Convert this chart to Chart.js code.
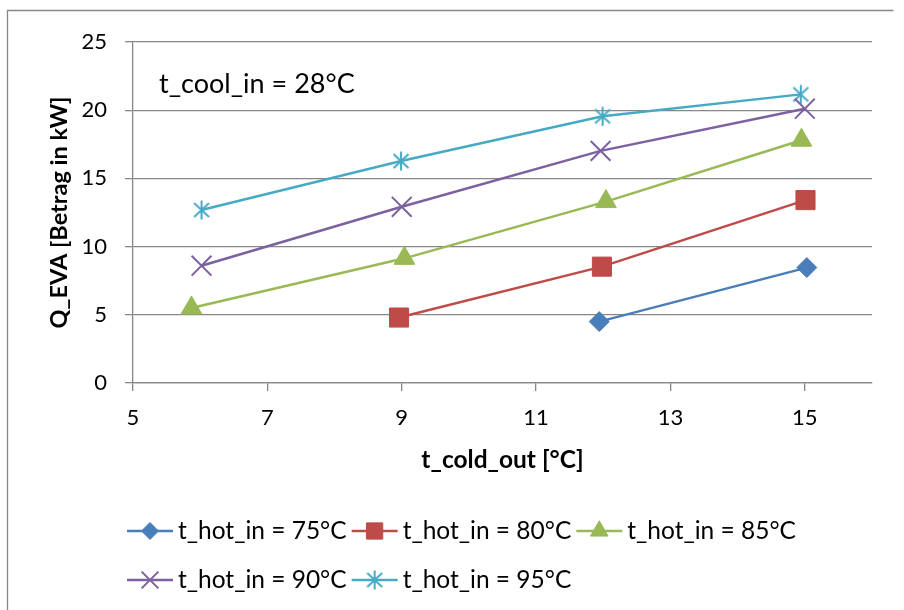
<!DOCTYPE html>
<html>
<head>
<meta charset="utf-8">
<script src="https://cdn.jsdelivr.net/npm/chart.js@4"></script>
<style>
  html, body { margin: 0; padding: 0; background: #ffffff; }
  canvas { display: block; }
</style>
</head>
<body>
<canvas id="chart" width="904" height="610"></canvas>
<script>
// Evaporator heat flow vs. cold water outlet temperature, one series per hot water inlet temperature
const seriesLabels = ['t_hot_in = 75°C', 't_hot_in = 80°C', 't_hot_in = 85°C', 't_hot_in = 90°C', 't_hot_in = 95°C'];

const coldOut75 = [11.94, 15.03];
const qEva75    = [4.5, 8.46];

const coldOut80 = [8.96, 11.98, 15.01];
const qEva80    = [4.8, 8.53, 13.41];

const coldOut85 = [5.87, 9.04, 12.04, 14.95];
const qEva85    = [5.5, 9.14, 13.3, 17.8];

const coldOut90 = [6.02, 9.0, 11.96, 15.0];
const qEva90    = [8.6, 12.92, 17.02, 20.11];

const coldOut95 = [6.02, 8.99, 11.99, 14.94];
const qEva95    = [12.68, 16.27, 19.55, 21.16];

const xTicks = [5, 7, 9, 11, 13, 15];
const yTicks = [0, 5, 10, 15, 20, 25];

const noteText = 't_cool_in = 28°C';
const xTitle = 't_cold_out [°C]';
const yTitle = 'Q_EVA [Betrag in kW]';

const FONT = 'Lato';
const gridColor = '#878787';

function pairs(xs, ys) {
  return xs.map((x, i) => ({ x: x, y: ys[i] }));
}

// Six-armed asterisk marker
function makeAsterisk(color) {
  const c = document.createElement('canvas');
  c.width = 24; c.height = 24;
  const g = c.getContext('2d');
  g.strokeStyle = color;
  g.lineWidth = 2;
  g.lineCap = 'butt';
  g.beginPath();
  g.moveTo(12, 2.5); g.lineTo(12, 21.5);
  g.moveTo(4.5, 5); g.lineTo(19.5, 19);
  g.moveTo(19.5, 5); g.lineTo(4.5, 19);
  g.stroke();
  return c;
}

const styles = [
  { color: '#4A7EBB', pointStyle: 'rectRot', radius: 10, fill: '#4A7EBB', pbw: 1 },
  { color: '#BE4B48', pointStyle: 'rect', radius: 13.5, fill: '#BE4B48', pbw: 1 },
  { color: '#98B954', pointStyle: 'triangle', radius: 12, fill: '#98B954', pbw: 1 },
  { color: '#7D60A0', pointStyle: 'crossRot', radius: 14, fill: '#7D60A0', pbw: 2 },
  { color: '#46AAC5', pointStyle: makeAsterisk('#46AAC5'), radius: 12, fill: '#46AAC5', pbw: 2 }
];

const xs = [coldOut75, coldOut80, coldOut85, coldOut90, coldOut95];
const ys = [qEva75, qEva80, qEva85, qEva90, qEva95];

const datasets = seriesLabels.map((label, i) => ({
  label: label,
  data: pairs(xs[i], ys[i]),
  showLine: true,
  borderColor: styles[i].color,
  backgroundColor: styles[i].fill,
  borderWidth: 2.5,
  pointStyle: styles[i].pointStyle,
  pointRadius: styles[i].radius,
  pointHoverRadius: styles[i].radius,
  pointBackgroundColor: styles[i].fill,
  pointBorderColor: styles[i].color,
  pointBorderWidth: styles[i].pbw,
  clip: false
}));

// Frame, inline note and the legend block below the axes
const overlay = {
  id: 'overlay',
  afterDraw(chart) {
    const ctx = chart.ctx;
    ctx.save();

    ctx.strokeStyle = gridColor;
    ctx.lineWidth = 1.3;
    ctx.beginPath();
    ctx.moveTo(7.5, 612);
    ctx.lineTo(7.5, 10.5);
    ctx.lineTo(893.5, 10.5);
    ctx.stroke();

    ctx.fillStyle = '#000';
    ctx.font = `27px ${FONT}`;
    ctx.textBaseline = 'alphabetic';
    ctx.textAlign = 'left';
    ctx.fillText(noteText, 159, 93);

    const rows = [
      { y: 531, items: [0, 1, 2] },
      { y: 580, items: [3, 4] }
    ];
    ctx.font = `24.5px ${FONT}`;
    rows.forEach(row => {
      let x0 = 127;
      row.items.forEach(i => {
        const ds = chart.data.datasets[i];
        ctx.strokeStyle = ds.borderColor;
        ctx.lineWidth = 2.5;
        ctx.beginPath();
        ctx.moveTo(x0, row.y);
        ctx.lineTo(x0 + 46, row.y);
        ctx.stroke();

        ctx.fillStyle = ds.pointBackgroundColor;
        ctx.strokeStyle = ds.pointBorderColor;
        ctx.lineWidth = ds.pointBorderWidth;
        Chart.helpers.drawPoint(ctx, {
          pointStyle: ds.pointStyle,
          rotation: 0,
          radius: ds.pointRadius * 0.85,
          borderWidth: ds.pointBorderWidth
        }, x0 + 23, row.y);

        ctx.fillStyle = '#000';
        ctx.fillText(ds.label, x0 + 51, row.y + 8);
        x0 += 51 + ctx.measureText(ds.label).width + 5;
      });
    });
    ctx.restore();
  }
};

new Chart(document.getElementById('chart'), {
  type: 'scatter',
  data: { datasets: datasets },
  plugins: [overlay],
  options: {
    responsive: false,
    animation: false,
    events: [],
    layout: { padding: { left: 0, top: 42, right: 32, bottom: 127 } },
    plugins: {
      legend: { display: false },
      tooltip: { enabled: false }
    },
    scales: {
      x: {
        type: 'linear',
        min: 5,
        max: 16,
        afterBuildTicks: s => { s.ticks = xTicks.map(v => ({ value: v })); },
        afterFit: s => { s.height = 100; },
        grid: { drawOnChartArea: false, drawTicks: true, tickLength: 8, color: gridColor, lineWidth: 1.3 },
        border: { display: true, color: gridColor, width: 1.3 },
        ticks: { color: '#000', font: { family: FONT, size: 22 }, padding: 14, maxRotation: 0 },
        title: {
          display: true,
          text: xTitle,
          color: '#000',
          font: { family: FONT, size: 24.5, weight: 'bold' },
          padding: { top: 0, bottom: 8 }
        }
      },
      y: {
        type: 'linear',
        min: 0,
        max: 25,
        afterBuildTicks: s => { s.ticks = yTicks.map(v => ({ value: v })); },
        afterFit: s => { s.width = 133; },
        grid: { drawTicks: true, tickLength: 8, color: gridColor, lineWidth: 1.3 },
        border: { display: true, color: gridColor, width: 1.3 },
        ticks: { color: '#000', font: { family: FONT, size: 22 }, padding: 18 },
        title: {
          display: true,
          text: yTitle,
          color: '#000',
          font: { family: FONT, size: 23.5, weight: 'bold' },
          padding: { top: 45, bottom: 0 }
        }
      }
    }
  }
});
</script>
</body>
</html>
